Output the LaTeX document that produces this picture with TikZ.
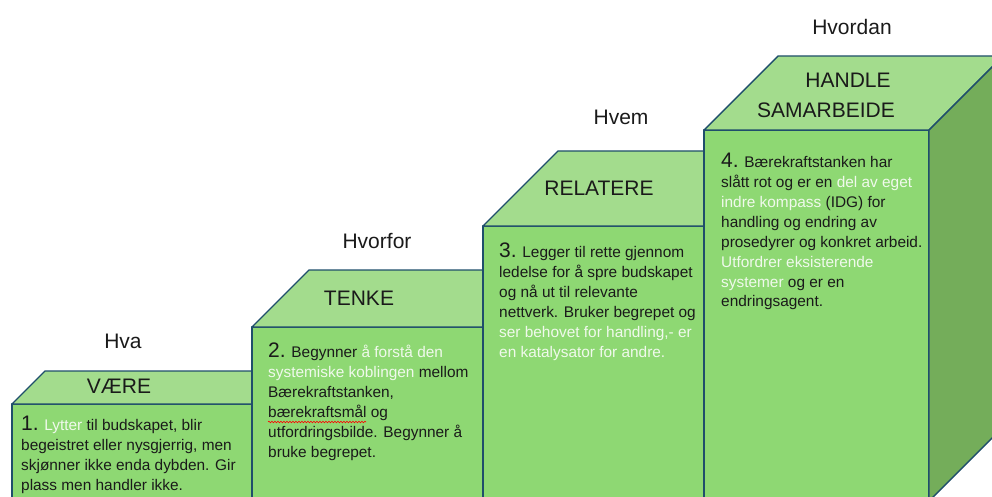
\documentclass[tikz,border=0pt]{standalone}
\usepackage{fontspec}
\setmainfont{Liberation Sans}
\usetikzlibrary{decorations.pathmorphing}
\definecolor{topc}{HTML}{A3DC8D}
\definecolor{frontc}{HTML}{8ED873}
\definecolor{sidec}{HTML}{74AD5A}
\definecolor{edgec}{HTML}{1F4E6B}
\definecolor{txtc}{HTML}{1A1A1A}
\definecolor{litec}{HTML}{F0F9EC}
\newcommand{\bignum}[1]{{\fontsize{21}{21}\selectfont #1}}
\newcommand{\lite}[1]{\textcolor{litec}{#1}}
% #1 left, #2 top, #3 right, #4 bottom, #5 depth (pixels, y down)
\newcommand{\stepcube}[5]{%
  \fill[frontc] (#1,#2) rectangle (#3,#4);
  \draw[face] (#1,#4) -- (#1,#2) -- (#3,#2) -- (#3,#4);
  \filldraw[face, fill=topc] (#1,#2) -- ({#1+#5},{#2-#5}) -- ({#3+#5},{#2-#5}) -- (#3,#2) -- cycle;
  \filldraw[face, fill=sidec] (#3,#2) -- ({#3+#5},{#2-#5}) -- ({#3+#5},{#4-#5}) -- (#3,#4) -- cycle;
}
\tikzset{
  face/.style={draw=edgec, line width=1.4pt, line join=round},
  body/.style={anchor=north west, align=left, inner sep=0pt, text=txtc,
    font=\fontsize{15.4}{19.9}\selectfont},
  title/.style={font=\fontsize{21}{24}\selectfont, text=txtc, inner sep=0pt},
  head/.style={font=\fontsize{21}{24}\selectfont, text=txtc, inner sep=0pt},
}
\begin{document}
\begin{tikzpicture}[x=1pt, y=-1pt]
\path[use as bounding box] (0,0) rectangle (992,497);
\clip (0,0) rectangle (992,497);
\stepcube{12}{404}{252}{501}{33}
\stepcube{252}{327}{483}{501}{57}
\stepcube{483}{226}{704}{501}{75}
\stepcube{704}{130}{929}{501}{74}

\node[head] (h1) at (123,341) {Hva};
\node[head] (h2) at (377,241) {Hvorfor};
\node[head] (h3) at (621,117) {Hvem};
\node[head] (h4) at (852,27) {Hvordan};

\node[title] (s1) at (119,386) {VÆRE};
\node[title] (s2) at (359,298) {TENKE};
\node[title] (s3) at (599,188) {RELATERE};
\node[title] (s4a) at (848,80) {HANDLE};
\node[title] (s4b) at (826,110) {SAMARBEIDE};

\node[body] (t1) at (21,416) {\bignum{1.} \lite{Lytter} til budskapet, blir\\
begeistret eller nysgjerrig, men\\
skjønner ikke enda dybden. Gir\\
plass men handler ikke.};

\node[body] (t2) at (268,343) {\bignum{2.} Begynner \lite{å forstå den}\\
\lite{systemiske koblingen} mellom\\
Bærekraftstanken,\\
bærekraftsmål og\\
utfordringsbilde. Begynner å\\
bruke begrepet.};

\node[body] (t3) at (499,243) {\bignum{3.} Legger til rette gjennom\\
ledelse for å spre budskapet\\
og nå ut til relevante\\
nettverk. Bruker begrepet og\\
\lite{ser behovet for handling,- er}\\
\lite{en katalysator for andre.}};

\node[body] (t4) at (721,153) {\bignum{4.} Bærekraftstanken har\\
slått rot og er en \lite{del av eget}\\
\lite{indre kompass} (IDG) for\\
handling og endring av\\
prosedyrer og konkret arbeid.\\
\lite{Utfordrer eksisterende}\\
\lite{systemer} og er en\\
endringsagent.};

\coordinate (sqa) at (268,422);
\coordinate (sqb) at (366,422);
\draw[red, line width=0.6pt, decorate, decoration={snake, amplitude=0.8pt, segment length=3pt}] (sqa) -- (sqb);
\end{tikzpicture}
\end{document}
